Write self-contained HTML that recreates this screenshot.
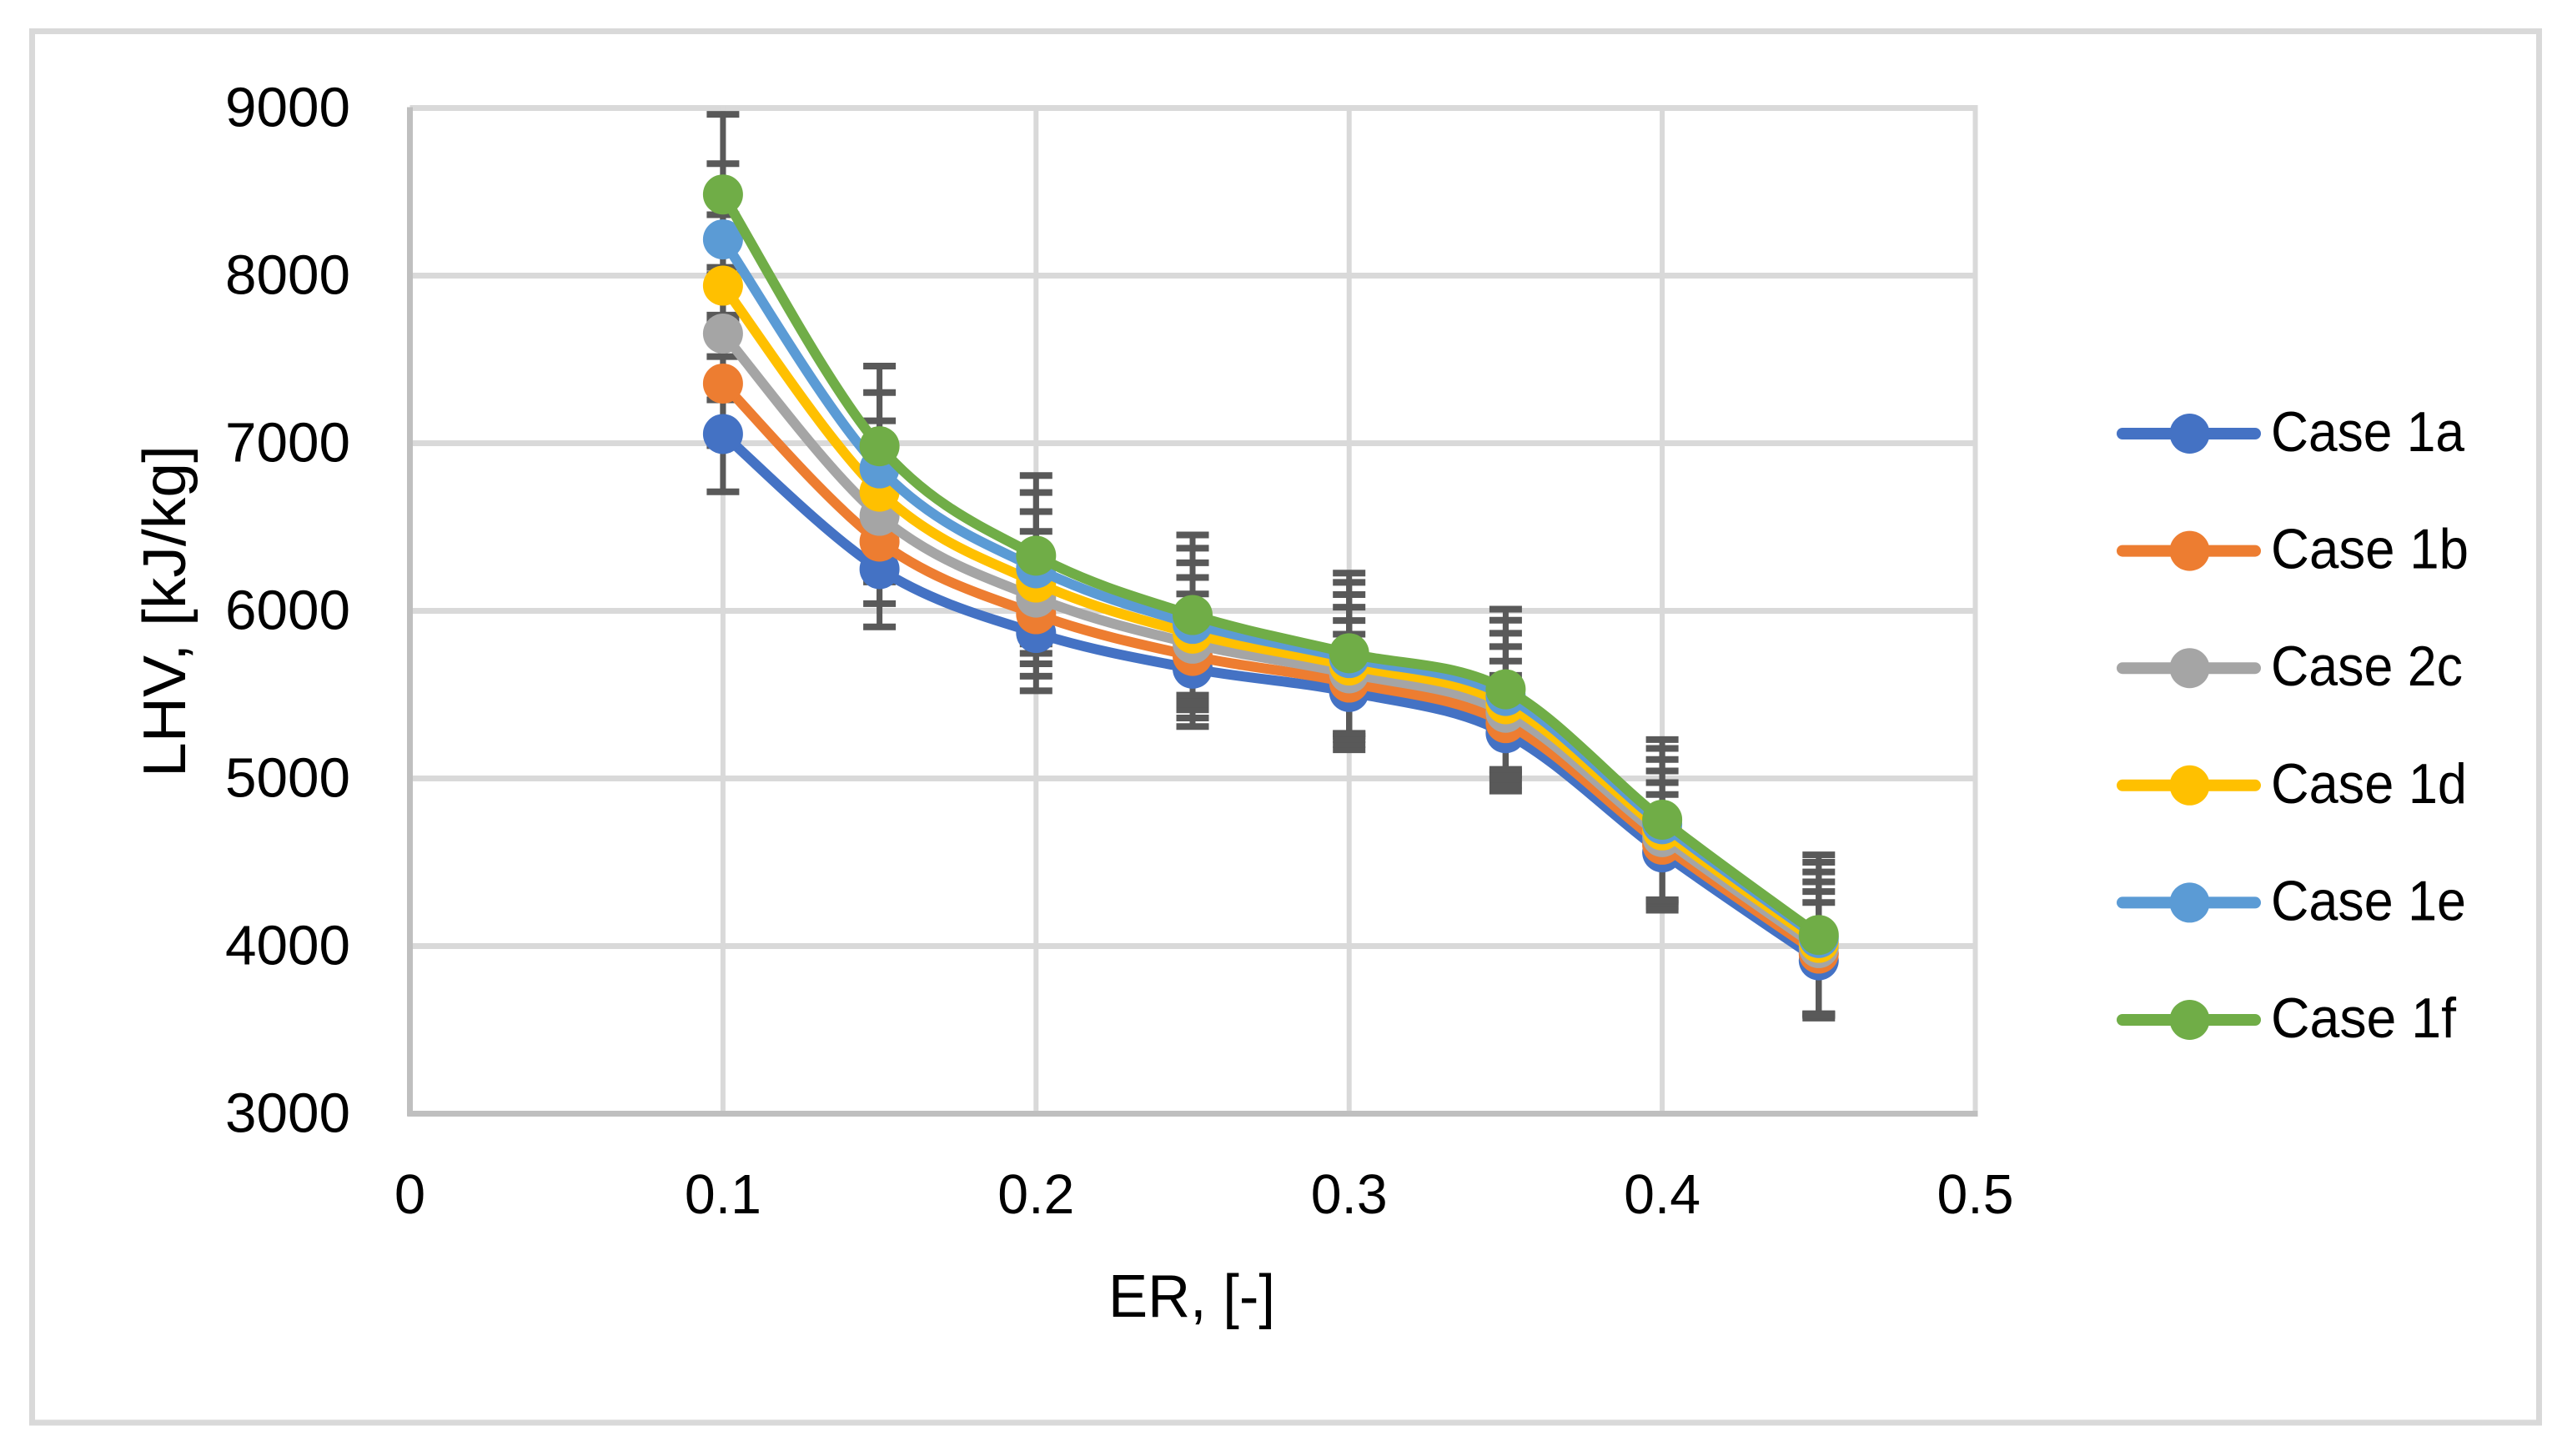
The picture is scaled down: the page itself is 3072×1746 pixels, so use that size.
<!DOCTYPE html>
<html lang="en">
<head>
<meta charset="utf-8">
<title>LHV versus ER</title>
<style>
html,body{margin:0;padding:0;background:#fff;width:3072px;height:1746px;overflow:hidden}
svg{display:block}
text{font-family:"Liberation Sans",sans-serif;fill:#000}
</style>
</head>
<body>
<svg id="chart" xmlns="http://www.w3.org/2000/svg" width="3072" height="1746" viewBox="0 0 3072 1746">
  <rect x="38.5" y="37.5" width="3006" height="1668.5" fill="#fff" stroke="#d9d9d9" stroke-width="7"/>
  <g id="grid"></g>
  <g id="axes"></g>
  <g id="ticks"></g>
  <g id="errors"></g>
  <g id="series"></g>
  <g id="legend"></g>
  <text x="1429" y="1579" font-size="72" text-anchor="middle" textLength="200" lengthAdjust="spacingAndGlyphs">ER, [-]</text>
  <text x="0" y="0" transform="translate(222 733) rotate(-90)" font-size="72" text-anchor="middle" textLength="398" lengthAdjust="spacingAndGlyphs">LHV, [kJ/kg]</text>
</svg>
<script>
// Chart data
var erValues = [0.1, 0.15, 0.2, 0.25, 0.3, 0.35, 0.4, 0.45];
var case1a = [7055, 6249, 5868, 5655, 5516, 5270, 4559, 3915];
var case1b = [7356, 6413, 5980, 5731, 5572, 5330, 4605, 3955];
var case2c = [7654, 6567, 6079, 5804, 5627, 5392, 4650, 3988];
var case1d = [7940, 6711, 6169, 5864, 5674, 5443, 4690, 4019];
var case1e = [8216, 6850, 6254, 5922, 5718, 5492, 4727, 4048];
var case1f = [8484, 6982, 6329, 5975, 5747, 5532, 4754, 4066];
var errorAmounts = [345, 370, 395, 423, 452, 478];
var seriesNames = ["Case 1a", "Case 1b", "Case 2c", "Case 1d", "Case 1e", "Case 1f"];
var xTickValues = [0, 0.1, 0.2, 0.3, 0.4, 0.5];
var xTickLabels = ["0", "0.1", "0.2", "0.3", "0.4", "0.5"];
var yTickValues = [3000, 4000, 5000, 6000, 7000, 8000, 9000];
var yTickLabels = ["3000", "4000", "5000", "6000", "7000", "8000", "9000"];

var seriesValues = [case1a, case1b, case2c, case1d, case1e, case1f];
var seriesColors = ["#4472c4", "#ed7d31", "#a5a5a5", "#ffc000", "#5b9bd5", "#70ad47"];
var NS = "http://www.w3.org/2000/svg";
var plot = {left: 491.5, right: 2368.5, top: 129.5, bottom: 1335.5};

function xScale(v) { return plot.left + (v - 0) / (0.5 - 0) * (plot.right - plot.left); }
function yScale(v) { return plot.bottom - (v - 3000) / (9000 - 3000) * (plot.bottom - plot.top); }
function make(tag, attrs, parent) {
  var el = document.createElementNS(NS, tag);
  for (var k in attrs) el.setAttribute(k, attrs[k]);
  parent.appendChild(el);
  return el;
}
function smoothPath(xs, ys) {
  var pts = xs.map(function (x, i) { return [xScale(x), yScale(ys[i])]; });
  var d = "M" + pts[0][0].toFixed(2) + " " + pts[0][1].toFixed(2);
  for (var i = 0; i < pts.length - 1; i++) {
    var p0 = pts[Math.max(i - 1, 0)], p1 = pts[i], p2 = pts[i + 1], p3 = pts[Math.min(i + 2, pts.length - 1)];
    var c1x = p1[0] + (p2[0] - p0[0]) / 6, c1y = p1[1] + (p2[1] - p0[1]) / 6;
    var c2x = p2[0] - (p3[0] - p1[0]) / 6, c2y = p2[1] - (p3[1] - p1[1]) / 6;
    d += "C" + c1x.toFixed(2) + " " + c1y.toFixed(2) + " " + c2x.toFixed(2) + " " + c2y.toFixed(2) + " " + p2[0].toFixed(2) + " " + p2[1].toFixed(2);
  }
  return d;
}

var gGrid = document.getElementById("grid");
var gAxes = document.getElementById("axes");
var gTicks = document.getElementById("ticks");
var gErrors = document.getElementById("errors");
var gSeries = document.getElementById("series");
var gLegend = document.getElementById("legend");

// Gridlines and tick labels
yTickValues.forEach(function (v, i) {
  if (i > 0) {
    var line = make("line", {x1: plot.left, x2: plot.right + 3, y1: yScale(v), y2: yScale(v), stroke: "#d9d9d9", "stroke-width": 7}, gGrid);
    
    
  }
  var t = make("text", {x: 420, y: yScale(v) + 22, "font-size": 67, "text-anchor": "end", textLength: 150, lengthAdjust: "spacingAndGlyphs"}, gTicks);
  t.textContent = yTickLabels[i];
  
  
});
xTickValues.forEach(function (v, i) {
  if (i > 0) {
    var line = make("line", {x1: xScale(v), x2: xScale(v), y1: plot.top - 3, y2: plot.bottom, stroke: "#d9d9d9", "stroke-width": 6}, gGrid);
    
    
  }
  var attrs = {x: xScale(v), y: 1455, "font-size": 67, "text-anchor": "middle"};
  if (xTickLabels[i].length > 1) { attrs.textLength = 92; attrs.lengthAdjust = "spacingAndGlyphs"; }
  var t = make("text", attrs, gTicks);
  t.textContent = xTickLabels[i];
  
  
});

// Axes
var yAxisLine = make("line", {x1: plot.left, x2: plot.left, y1: plot.top - 1, y2: plot.bottom + 3, stroke: "#bfbfbf", "stroke-width": 7}, gAxes);


var xAxisLine = make("line", {x1: plot.left - 3, x2: plot.right + 3, y1: plot.bottom, y2: plot.bottom, stroke: "#bfbfbf", "stroke-width": 7}, gAxes);



// Error bars (beneath all series)
seriesValues.forEach(function (vals, s) {
  erValues.forEach(function (er, i) {
    var x = xScale(er), yHi = yScale(vals[i] + errorAmounts[s]), yLo = yScale(vals[i] - errorAmounts[s]);
    var stem = make("line", {x1: x, x2: x, y1: yHi, y2: yLo, stroke: "#595959", "stroke-width": 7}, gErrors);
    
    
    [yHi, yLo].forEach(function (y) {
      var cap = make("line", {x1: x - 19.5, x2: x + 19.5, y1: y, y2: y, stroke: "#595959", "stroke-width": 8}, gErrors);
      
      
    });
  });
});

// Series lines and markers
seriesValues.forEach(function (vals, s) {
  var path = make("path", {d: smoothPath(erValues, vals), fill: "none", stroke: seriesColors[s], "stroke-width": 12, "stroke-linecap": "round", "stroke-linejoin": "round"}, gSeries);
  
  
  erValues.forEach(function (er, i) {
    var dot = make("circle", {cx: xScale(er), cy: yScale(vals[i]), r: 24, fill: seriesColors[s]}, gSeries);
    
    
  });
});

// Legend
var legendTextWidth = {"Case 1a": 232, "Case 1b": 237, "Case 2c": 230, "Case 1d": 235, "Case 1e": 234, "Case 1f": 222};
seriesNames.forEach(function (name, s) {
  var y = 520 + s * 140.6;
  var line = make("line", {x1: 2545, x2: 2704, y1: y, y2: y, stroke: seriesColors[s], "stroke-width": 14, "stroke-linecap": "round"}, gLegend);
  
  
  var dot = make("circle", {cx: 2625.5, cy: y, r: 24, fill: seriesColors[s]}, gLegend);
  
  
  var t = make("text", {x: 2723, y: y + 21, "font-size": 68, textLength: legendTextWidth[name], lengthAdjust: "spacingAndGlyphs"}, gLegend);
  t.textContent = name;
  
  
});
</script>
</body>
</html>
